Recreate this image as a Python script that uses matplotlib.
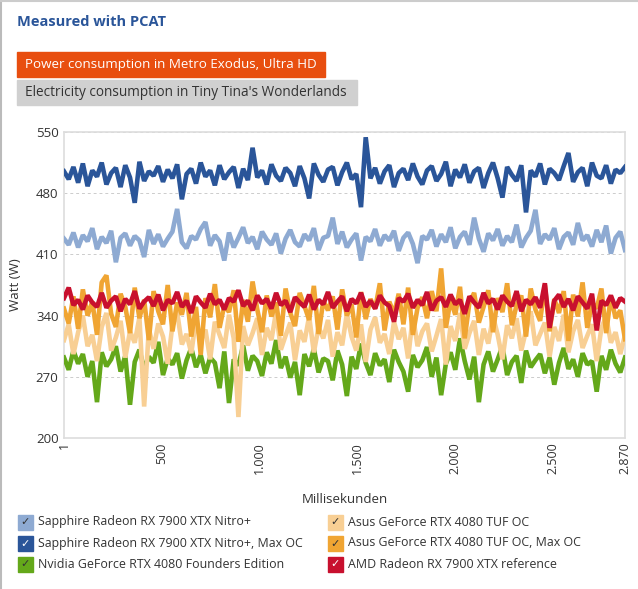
import numpy as np
import matplotlib
matplotlib.use("Agg")
import matplotlib.pyplot as plt
from matplotlib.patches import Rectangle
from matplotlib.ticker import FuncFormatter

plt.rcParams['font.family'] = ['Open Sans', 'DejaVu Sans']

# ---- data (one value every ~24 ms) -------------------------------------------
ms = np.linspace(1, 2870, 120)

nitro = [
    428, 421, 435, 418, 432, 425, 440, 416, 430, 423,
    437, 401, 429, 434, 420, 431, 426, 407, 438, 422,
    433, 419, 428, 436, 462, 424, 417, 431, 427, 439,
    447, 420, 432, 425, 403, 435, 418, 429, 441, 423,
    430, 416, 436, 427, 421, 434, 411, 428, 438, 424,
    419, 433, 426, 440, 415, 429, 431, 452, 422, 436,
    418, 427, 434, 403, 430, 425, 439, 420, 432, 426,
    437, 414, 429, 435, 422, 400, 431, 427, 438, 419,
    433, 424, 441, 417, 430, 436, 421, 452, 428, 413,
    434, 426, 439, 420, 431, 424, 444, 418, 429, 437,
    461, 422, 433, 427, 440, 416, 430, 435, 421, 446,
    426, 432, 419, 438, 424, 443, 411, 429, 436, 415,
]
nitro_oc = [
    505, 496, 510, 492, 514, 488, 506, 499, 515, 490,
    503, 509, 487, 512, 498, 469, 516, 494, 505, 500,
    511, 493, 507, 497, 513, 473, 502, 508, 491, 515,
    499, 506, 489, 512, 496, 504, 510, 486, 508, 495,
    532, 498, 506, 490, 513, 500, 494, 509, 503, 488,
    511, 497, 474, 514, 501, 493, 507, 510, 489, 504,
    515, 496, 502, 464, 544, 497, 509, 491, 505, 512,
    487, 503, 508, 495, 514, 499, 490, 506, 511, 494,
    502, 516, 488, 507, 498, 513, 492, 505, 509, 486,
    503, 515, 497, 475, 510, 501, 494, 512, 458, 506,
    499, 514, 490, 508, 503, 495, 511, 526, 493, 504,
    509, 488, 515, 500, 497, 512, 491, 507, 503, 510,
]
rtx_fe = [
    292, 278, 300, 285, 296, 270, 288, 241, 298, 282,
    290, 305, 276, 294, 238, 287, 301, 279, 293, 286,
    310, 272, 291, 284, 297, 268, 289, 303, 281, 295,
    274, 292, 286, 257, 299, 240, 290, 283, 306, 277,
    294, 288, 271, 298, 285, 312, 280, 293, 269, 287,
    249, 296, 282, 302, 275, 291, 288, 266, 300, 284,
    248, 293, 279, 308, 286, 272, 297, 283, 290, 264,
    301, 287, 276, 253, 295, 281, 289, 304, 270, 292,
    249, 285, 298, 278, 314, 288, 267, 293, 241, 284,
    299, 276, 290, 305, 272, 287, 294, 263, 300, 281,
    289, 296, 274, 292, 261, 286, 303, 279, 290, 270,
    297, 284, 288, 253, 294, 278, 301, 285, 275, 292,
]
tuf = [
    312, 330, 296, 321, 340, 305, 318, 288, 327, 343,
    300, 315, 334, 292, 322, 309, 338, 236, 325, 302,
    331, 316, 285, 329, 344, 307, 319, 297, 336, 311,
    324, 290, 333, 318, 303, 341, 314, 224, 328, 306,
    320, 337, 295, 326, 312, 345, 301, 317, 332, 289,
    323, 310, 339, 298, 327, 314, 335, 293, 321, 306,
    342, 316, 300, 330, 287, 324, 338, 309, 319, 296,
    333, 313, 326, 291, 340, 305, 322, 331, 299, 317,
    336, 284, 328, 311, 343, 302, 320, 334, 295, 325,
    308, 339, 318, 290, 329, 314, 337, 300, 323, 345,
    306, 319, 332, 293, 327, 311, 341, 298, 322, 335,
    303, 317, 330, 288, 326, 339, 309, 321, 296, 318,
]
tuf_oc = [
    348, 331, 362, 325, 370, 340, 356, 318, 378, 386,
    342, 327, 365, 350, 320, 372, 337, 358, 312, 368,
    345, 330, 375, 322, 355, 341, 366, 316, 350, 295,
    360, 338, 376, 326, 352, 344, 369, 310, 358, 333,
    379, 347, 321, 363, 339, 355, 317, 371, 343, 328,
    366, 351, 335, 374, 319, 357, 346, 362, 324, 370,
    340, 353, 315, 367, 336, 359, 348, 377, 323, 356,
    342, 365, 330, 372, 318, 349, 361, 337, 368, 345,
    394, 326, 358, 341, 373, 314, 355, 366, 332, 350,
    369, 321, 360, 344, 377, 329, 352, 363, 316, 371,
    347, 334, 375, 322, 359, 343, 368, 311, 364, 339,
    378, 326, 355, 348, 371, 320, 362, 337, 346, 313,
]
amd_ref = [
    360, 372, 352, 358, 347, 363, 355, 350, 366, 349,
    357, 362, 345, 359, 353, 368, 348, 356, 361, 351,
    364, 346, 358, 354, 367, 350, 357, 343, 362, 355,
    349, 365, 353, 358, 347, 360, 356, 369, 351, 357,
    346, 363, 354, 359, 348, 366, 352, 357, 344, 361,
    355, 350, 364, 347, 358, 353, 367, 349, 356, 362,
    345, 359, 354, 366, 350, 357, 348, 363, 355, 351,
    333, 360, 356, 365, 349, 358, 352, 367, 346, 357,
    361, 350, 364, 353, 358, 342, 362, 355, 349, 366,
    354, 359, 347, 363, 356, 351, 368, 345, 358, 353,
    361, 349, 377, 326, 357, 364, 350, 359, 346, 362,
    355, 348, 365, 323, 357, 352, 363, 349, 360, 356,
]

names = ["Sapphire Radeon RX 7900 XTX Nitro+",
         "Sapphire Radeon RX 7900 XTX Nitro+, Max OC",
         "Nvidia GeForce RTX 4080 Founders Edition",
         "Asus GeForce RTX 4080 TUF OC",
         "Asus GeForce RTX 4080 TUF OC, Max OC",
         "AMD Radeon RX 7900 XTX reference"]
series = [nitro, nitro_oc, rtx_fe, tuf, tuf_oc, amd_ref]
colors = ["#8eaad2", "#2a5599", "#64a81a", "#f8cf94", "#f0a533", "#c8102e"]
check_col = ["#333333", "white", "#333333", "#333333", "#333333", "white"]

yticks = [200, 270, 340, 410, 480, 550]
xticks = [1, 500, 1000, 1500, 2000, 2500, 2870]

# ---- figure ---------------------------------------------------------------------
fig = plt.figure(figsize=(6.38, 5.89), dpi=100)
ax = fig.add_axes([64/638, 1-438/589, 561/638, 306/589])

for i, (vals, col) in enumerate(zip(series, colors)):
    ax.plot(ms, vals, color=col, lw=3.3, solid_joinstyle='bevel', zorder=3+i)

ax.set_xlim(1, 2870)
ax.set_ylim(200, 550)
ax.set_yticks(yticks)
ax.set_xticks(xticks)
ax.xaxis.set_major_formatter(FuncFormatter(lambda v, p: f"{int(v):,}".replace(",", ".")))
ax.tick_params(axis='x', labelrotation=90, length=0, pad=3, labelsize=9, colors='#333333')
ax.tick_params(axis='y', length=0, pad=4, labelsize=9.5, colors='#333333')
ax.grid(axis='y', color='#cccccc', ls=(0, (3, 3)), lw=0.7)
for s in ax.spines.values():
    s.set_color('#dddddd')
    s.set_linewidth(1.2)
ax.set_xlabel("Millisekunden", fontsize=9.5, color='#333333', labelpad=14)
ax.set_ylabel("Watt (W)", fontsize=9.5, color='#333333', labelpad=10)

# header
fig.text(17/638, 1-22/589, "Measured with PCAT", fontsize=10.5, fontweight='bold',
         color='#2a5599', va='center', ha='left')
fig.patches.append(Rectangle((17/638, 1-77/589), 308/638, 25/589,
                             transform=fig.transFigure, color='#e84e0f', zorder=0))
fig.text(25/638, 1-64.5/589, "Power consumption in Metro Exodus, Ultra HD", fontsize=9.6,
         color='white', va='center', ha='left')
fig.patches.append(Rectangle((17/638, 1-105/589), 340/638, 25/589,
                             transform=fig.transFigure, color='#d0d0d0', zorder=0))
fig.text(25/638, 1-92.5/589, "Electricity consumption in Tiny Tina's Wonderlands", fontsize=9.8,
         color='#333333', va='center', ha='left')

# legend with check boxes
for i, (name, col) in enumerate(zip(names, colors)):
    colx = 18 if i < 3 else 328
    rowy = [522, 543, 564][i % 3]
    fig.patches.append(Rectangle((colx/638, 1-(rowy+8)/589), 15/638, 15/589,
                                 transform=fig.transFigure, color=col, zorder=0))
    fig.text((colx+7.5)/638, 1-(rowy+0.5)/589, "\u2713", fontsize=8, color=check_col[i],
             ha='center', va='center', family='DejaVu Sans')
    fig.text((colx+20)/638, 1-rowy/589, name, fontsize=8.9, color='#333333',
             ha='left', va='center')

# thin frame on the left / top edge of the widget
fig.add_artist(plt.Line2D([0.5/638, 0.5/638], [0, 1], color='#bbbbbb', lw=1.5,
                          transform=fig.transFigure))
fig.add_artist(plt.Line2D([0, 1], [1-0.5/589, 1-0.5/589], color='#cccccc', lw=1.5,
                          transform=fig.transFigure))

fig.savefig("out.png", dpi=100)
